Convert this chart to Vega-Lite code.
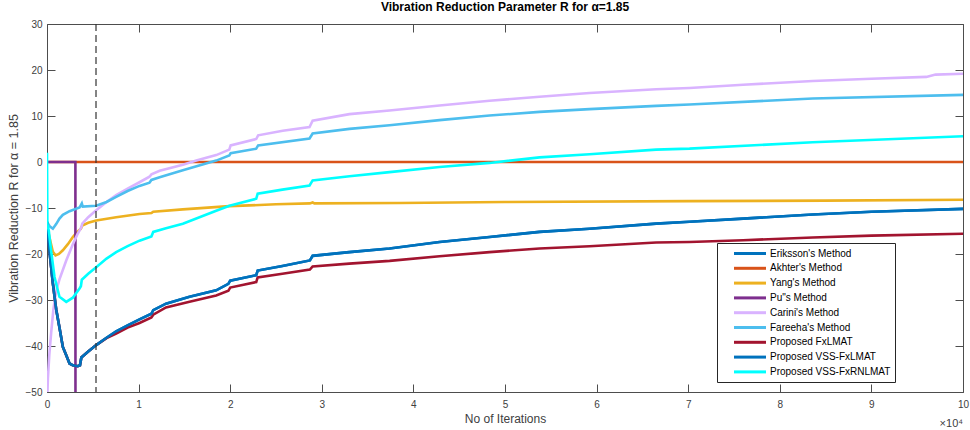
{
  "$schema": "https://vega.github.io/schema/vega-lite/v6.json",
  "width": 916,
  "height": 368,
  "autosize": {"type": "none"},
  "padding": {"left": 47, "top": 24, "right": 7, "bottom": 38},
  "background": "white",
  "config": {
    "font": "Liberation Sans",
    "view": {"stroke": null},
    "axis": {"grid": false, "domainColor": "#4d4d4d", "tickColor": "#4d4d4d", "labelColor": "#404040", "titleColor": "#404040", "labelFontSize": 10, "titleFontSize": 12, "titleFontWeight": "normal", "labelFont": "Liberation Sans", "titleFont": "Liberation Sans"}
  },
  "title": {"text": "Vibration Reduction Parameter R for α=1.85", "fontSize": 12, "fontWeight": "bold", "color": "#000000", "font": "Liberation Sans", "offset": 5},
  "datasets": {
    "curves": [
      {"method": "Eriksson's Method", "x": 0, "r": -13},
      {"method": "Eriksson's Method", "x": 300, "r": -20},
      {"method": "Eriksson's Method", "x": 640, "r": -26.4},
      {"method": "Eriksson's Method", "x": 1000, "r": -32},
      {"method": "Eriksson's Method", "x": 1360, "r": -36},
      {"method": "Eriksson's Method", "x": 1730, "r": -40.2},
      {"method": "Eriksson's Method", "x": 2100, "r": -42},
      {"method": "Eriksson's Method", "x": 2460, "r": -43.8},
      {"method": "Eriksson's Method", "x": 2820, "r": -44.2},
      {"method": "Eriksson's Method", "x": 3360, "r": -44.4},
      {"method": "Eriksson's Method", "x": 3600, "r": -44.2},
      {"method": "Eriksson's Method", "x": 3750, "r": -42.5},
      {"method": "Eriksson's Method", "x": 4500, "r": -41.2},
      {"method": "Eriksson's Method", "x": 5370, "r": -39.8},
      {"method": "Eriksson's Method", "x": 6500, "r": -38.2},
      {"method": "Eriksson's Method", "x": 7550, "r": -36.8},
      {"method": "Eriksson's Method", "x": 8800, "r": -35.5},
      {"method": "Eriksson's Method", "x": 10100, "r": -34.2},
      {"method": "Eriksson's Method", "x": 11400, "r": -33},
      {"method": "Eriksson's Method", "x": 11600, "r": -32.2},
      {"method": "Eriksson's Method", "x": 12990, "r": -30.8},
      {"method": "Eriksson's Method", "x": 15560, "r": -29.3},
      {"method": "Eriksson's Method", "x": 18470, "r": -27.9},
      {"method": "Eriksson's Method", "x": 19800, "r": -26.5},
      {"method": "Eriksson's Method", "x": 20000, "r": -25.8},
      {"method": "Eriksson's Method", "x": 22840, "r": -24.6},
      {"method": "Eriksson's Method", "x": 23000, "r": -23.6},
      {"method": "Eriksson's Method", "x": 25700, "r": -22.6},
      {"method": "Eriksson's Method", "x": 28700, "r": -21.4},
      {"method": "Eriksson's Method", "x": 29000, "r": -20.4},
      {"method": "Eriksson's Method", "x": 33000, "r": -19.6},
      {"method": "Eriksson's Method", "x": 37400, "r": -18.8},
      {"method": "Eriksson's Method", "x": 42850, "r": -17.4},
      {"method": "Eriksson's Method", "x": 48310, "r": -16.3},
      {"method": "Eriksson's Method", "x": 53770, "r": -15.2},
      {"method": "Eriksson's Method", "x": 59230, "r": -14.5},
      {"method": "Eriksson's Method", "x": 66500, "r": -13.4},
      {"method": "Eriksson's Method", "x": 70140, "r": -13.0},
      {"method": "Eriksson's Method", "x": 76000, "r": -12.3},
      {"method": "Eriksson's Method", "x": 83600, "r": -11.4},
      {"method": "Eriksson's Method", "x": 90000, "r": -10.8},
      {"method": "Eriksson's Method", "x": 100000, "r": -10.2},

      {"method": "Akhter's Method", "x": 0, "r": 0},
      {"method": "Akhter's Method", "x": 100000, "r": 0},

      {"method": "Yang's Method", "x": 0, "r": -14},
      {"method": "Yang's Method", "x": 400, "r": -17.5},
      {"method": "Yang's Method", "x": 640, "r": -19.5},
      {"method": "Yang's Method", "x": 930, "r": -20.3},
      {"method": "Yang's Method", "x": 1300, "r": -20},
      {"method": "Yang's Method", "x": 1730, "r": -19.2},
      {"method": "Yang's Method", "x": 2300, "r": -17.8},
      {"method": "Yang's Method", "x": 2820, "r": -16.3},
      {"method": "Yang's Method", "x": 3300, "r": -15.2},
      {"method": "Yang's Method", "x": 3700, "r": -14.5},
      {"method": "Yang's Method", "x": 3850, "r": -13.8},
      {"method": "Yang's Method", "x": 4500, "r": -13.2},
      {"method": "Yang's Method", "x": 5370, "r": -12.7},
      {"method": "Yang's Method", "x": 7550, "r": -12.0},
      {"method": "Yang's Method", "x": 10100, "r": -11.3},
      {"method": "Yang's Method", "x": 11400, "r": -11.1},
      {"method": "Yang's Method", "x": 11600, "r": -10.8},
      {"method": "Yang's Method", "x": 14830, "r": -10.3},
      {"method": "Yang's Method", "x": 19920, "r": -9.6},
      {"method": "Yang's Method", "x": 25000, "r": -9.2},
      {"method": "Yang's Method", "x": 28700, "r": -9.0},
      {"method": "Yang's Method", "x": 29000, "r": -8.8},
      {"method": "Yang's Method", "x": 29200, "r": -9.0},
      {"method": "Yang's Method", "x": 38480, "r": -8.9},
      {"method": "Yang's Method", "x": 50000, "r": -8.7},
      {"method": "Yang's Method", "x": 70000, "r": -8.5},
      {"method": "Yang's Method", "x": 85000, "r": -8.4},
      {"method": "Yang's Method", "x": 100000, "r": -8.2},

      {"method": "Pu\"s Method", "x": 0, "r": 0},
      {"method": "Pu\"s Method", "x": 3100, "r": 0},
      {"method": "Pu\"s Method", "x": 3110, "r": -60},

      {"method": "Carini's Method", "x": 50, "r": -50},
      {"method": "Carini's Method", "x": 100, "r": -47},
      {"method": "Carini's Method", "x": 250, "r": -42},
      {"method": "Carini's Method", "x": 460, "r": -37},
      {"method": "Carini's Method", "x": 700, "r": -32},
      {"method": "Carini's Method", "x": 1000, "r": -28},
      {"method": "Carini's Method", "x": 1360, "r": -25.5},
      {"method": "Carini's Method", "x": 2100, "r": -21.4},
      {"method": "Carini's Method", "x": 2800, "r": -18},
      {"method": "Carini's Method", "x": 3300, "r": -15.8},
      {"method": "Carini's Method", "x": 3750, "r": -14.2},
      {"method": "Carini's Method", "x": 3850, "r": -13.4},
      {"method": "Carini's Method", "x": 4500, "r": -12},
      {"method": "Carini's Method", "x": 5370, "r": -10.5},
      {"method": "Carini's Method", "x": 6500, "r": -8.7},
      {"method": "Carini's Method", "x": 7550, "r": -7.2},
      {"method": "Carini's Method", "x": 8800, "r": -5.8},
      {"method": "Carini's Method", "x": 10100, "r": -4.4},
      {"method": "Carini's Method", "x": 11190, "r": -3.2},
      {"method": "Carini's Method", "x": 11400, "r": -2.7},
      {"method": "Carini's Method", "x": 12300, "r": -1.9},
      {"method": "Carini's Method", "x": 14830, "r": -0.6},
      {"method": "Carini's Method", "x": 16300, "r": 0.3},
      {"method": "Carini's Method", "x": 18470, "r": 1.5},
      {"method": "Carini's Method", "x": 19900, "r": 2.7},
      {"method": "Carini's Method", "x": 20050, "r": 3.6},
      {"method": "Carini's Method", "x": 22840, "r": 5.0},
      {"method": "Carini's Method", "x": 23050, "r": 5.8},
      {"method": "Carini's Method", "x": 25740, "r": 6.8},
      {"method": "Carini's Method", "x": 28660, "r": 7.6},
      {"method": "Carini's Method", "x": 29000, "r": 9.0},
      {"method": "Carini's Method", "x": 33020, "r": 10.4},
      {"method": "Carini's Method", "x": 37390, "r": 11.2},
      {"method": "Carini's Method", "x": 42850, "r": 12.3},
      {"method": "Carini's Method", "x": 48310, "r": 13.3},
      {"method": "Carini's Method", "x": 53770, "r": 14.2},
      {"method": "Carini's Method", "x": 59230, "r": 15.0},
      {"method": "Carini's Method", "x": 66500, "r": 15.8},
      {"method": "Carini's Method", "x": 70140, "r": 16.1},
      {"method": "Carini's Method", "x": 76000, "r": 16.8},
      {"method": "Carini's Method", "x": 83600, "r": 17.6},
      {"method": "Carini's Method", "x": 90000, "r": 18.1},
      {"method": "Carini's Method", "x": 96000, "r": 18.5},
      {"method": "Carini's Method", "x": 97000, "r": 19.0},
      {"method": "Carini's Method", "x": 100000, "r": 19.2},

      {"method": "Fareeha's Method", "x": 0, "r": -13},
      {"method": "Fareeha's Method", "x": 300, "r": -14},
      {"method": "Fareeha's Method", "x": 640, "r": -14.5},
      {"method": "Fareeha's Method", "x": 1000, "r": -13.5},
      {"method": "Fareeha's Method", "x": 1360, "r": -12.3},
      {"method": "Fareeha's Method", "x": 1730, "r": -11.5},
      {"method": "Fareeha's Method", "x": 2460, "r": -10.7},
      {"method": "Fareeha's Method", "x": 3550, "r": -9.9},
      {"method": "Fareeha's Method", "x": 3800, "r": -9.0},
      {"method": "Fareeha's Method", "x": 3900, "r": -9.7},
      {"method": "Fareeha's Method", "x": 5370, "r": -9.5},
      {"method": "Fareeha's Method", "x": 6500, "r": -8.7},
      {"method": "Fareeha's Method", "x": 7550, "r": -7.6},
      {"method": "Fareeha's Method", "x": 8800, "r": -6.3},
      {"method": "Fareeha's Method", "x": 10100, "r": -5.2},
      {"method": "Fareeha's Method", "x": 11190, "r": -4.5},
      {"method": "Fareeha's Method", "x": 11400, "r": -3.9},
      {"method": "Fareeha's Method", "x": 12300, "r": -3.3},
      {"method": "Fareeha's Method", "x": 14830, "r": -1.8},
      {"method": "Fareeha's Method", "x": 18470, "r": 0.3},
      {"method": "Fareeha's Method", "x": 19900, "r": 1.4},
      {"method": "Fareeha's Method", "x": 20050, "r": 1.9},
      {"method": "Fareeha's Method", "x": 22840, "r": 2.9},
      {"method": "Fareeha's Method", "x": 23050, "r": 3.6},
      {"method": "Fareeha's Method", "x": 28660, "r": 5.1},
      {"method": "Fareeha's Method", "x": 29000, "r": 6.2},
      {"method": "Fareeha's Method", "x": 33020, "r": 7.2},
      {"method": "Fareeha's Method", "x": 37390, "r": 8.0},
      {"method": "Fareeha's Method", "x": 42850, "r": 9.1},
      {"method": "Fareeha's Method", "x": 48310, "r": 10.1},
      {"method": "Fareeha's Method", "x": 53770, "r": 10.9},
      {"method": "Fareeha's Method", "x": 59230, "r": 11.5},
      {"method": "Fareeha's Method", "x": 66500, "r": 12.2},
      {"method": "Fareeha's Method", "x": 70140, "r": 12.5},
      {"method": "Fareeha's Method", "x": 83600, "r": 13.8},
      {"method": "Fareeha's Method", "x": 100000, "r": 14.6},

      {"method": "Proposed FxLMAT", "x": 0, "r": -13},
      {"method": "Proposed FxLMAT", "x": 300, "r": -20},
      {"method": "Proposed FxLMAT", "x": 640, "r": -26.4},
      {"method": "Proposed FxLMAT", "x": 1000, "r": -32},
      {"method": "Proposed FxLMAT", "x": 1360, "r": -36},
      {"method": "Proposed FxLMAT", "x": 1730, "r": -40.2},
      {"method": "Proposed FxLMAT", "x": 2100, "r": -42},
      {"method": "Proposed FxLMAT", "x": 2460, "r": -43.8},
      {"method": "Proposed FxLMAT", "x": 2820, "r": -44.2},
      {"method": "Proposed FxLMAT", "x": 3360, "r": -44.4},
      {"method": "Proposed FxLMAT", "x": 3600, "r": -44.2},
      {"method": "Proposed FxLMAT", "x": 3750, "r": -42.5},
      {"method": "Proposed FxLMAT", "x": 4500, "r": -41.2},
      {"method": "Proposed FxLMAT", "x": 5370, "r": -39.8},
      {"method": "Proposed FxLMAT", "x": 6500, "r": -38.3},
      {"method": "Proposed FxLMAT", "x": 7550, "r": -37.3},
      {"method": "Proposed FxLMAT", "x": 8800, "r": -36},
      {"method": "Proposed FxLMAT", "x": 10100, "r": -35},
      {"method": "Proposed FxLMAT", "x": 11400, "r": -33.8},
      {"method": "Proposed FxLMAT", "x": 11600, "r": -33.2},
      {"method": "Proposed FxLMAT", "x": 12990, "r": -31.6},
      {"method": "Proposed FxLMAT", "x": 15560, "r": -30.4},
      {"method": "Proposed FxLMAT", "x": 18470, "r": -29.0},
      {"method": "Proposed FxLMAT", "x": 19800, "r": -28},
      {"method": "Proposed FxLMAT", "x": 20000, "r": -27.3},
      {"method": "Proposed FxLMAT", "x": 22840, "r": -26.1},
      {"method": "Proposed FxLMAT", "x": 23000, "r": -25.1},
      {"method": "Proposed FxLMAT", "x": 25700, "r": -24.3},
      {"method": "Proposed FxLMAT", "x": 28700, "r": -23.4},
      {"method": "Proposed FxLMAT", "x": 29000, "r": -22.7},
      {"method": "Proposed FxLMAT", "x": 33000, "r": -22.1},
      {"method": "Proposed FxLMAT", "x": 37400, "r": -21.5},
      {"method": "Proposed FxLMAT", "x": 42850, "r": -20.5},
      {"method": "Proposed FxLMAT", "x": 48310, "r": -19.6},
      {"method": "Proposed FxLMAT", "x": 53770, "r": -18.8},
      {"method": "Proposed FxLMAT", "x": 59230, "r": -18.3},
      {"method": "Proposed FxLMAT", "x": 66500, "r": -17.5},
      {"method": "Proposed FxLMAT", "x": 70140, "r": -17.4},
      {"method": "Proposed FxLMAT", "x": 76000, "r": -17.0},
      {"method": "Proposed FxLMAT", "x": 83600, "r": -16.4},
      {"method": "Proposed FxLMAT", "x": 90000, "r": -16.0},
      {"method": "Proposed FxLMAT", "x": 100000, "r": -15.6},

      {"method": "Proposed VSS-FxLMAT", "x": 0, "r": -13},
      {"method": "Proposed VSS-FxLMAT", "x": 300, "r": -20},
      {"method": "Proposed VSS-FxLMAT", "x": 640, "r": -26.4},
      {"method": "Proposed VSS-FxLMAT", "x": 1000, "r": -32},
      {"method": "Proposed VSS-FxLMAT", "x": 1360, "r": -36},
      {"method": "Proposed VSS-FxLMAT", "x": 1730, "r": -40.2},
      {"method": "Proposed VSS-FxLMAT", "x": 2100, "r": -42},
      {"method": "Proposed VSS-FxLMAT", "x": 2460, "r": -43.8},
      {"method": "Proposed VSS-FxLMAT", "x": 2820, "r": -44.2},
      {"method": "Proposed VSS-FxLMAT", "x": 3360, "r": -44.4},
      {"method": "Proposed VSS-FxLMAT", "x": 3600, "r": -44.2},
      {"method": "Proposed VSS-FxLMAT", "x": 3750, "r": -42.5},
      {"method": "Proposed VSS-FxLMAT", "x": 4500, "r": -41.2},
      {"method": "Proposed VSS-FxLMAT", "x": 5370, "r": -39.8},
      {"method": "Proposed VSS-FxLMAT", "x": 6500, "r": -38.2},
      {"method": "Proposed VSS-FxLMAT", "x": 7550, "r": -36.8},
      {"method": "Proposed VSS-FxLMAT", "x": 8800, "r": -35.5},
      {"method": "Proposed VSS-FxLMAT", "x": 10100, "r": -34.2},
      {"method": "Proposed VSS-FxLMAT", "x": 11400, "r": -33},
      {"method": "Proposed VSS-FxLMAT", "x": 11600, "r": -32.2},
      {"method": "Proposed VSS-FxLMAT", "x": 12990, "r": -30.8},
      {"method": "Proposed VSS-FxLMAT", "x": 15560, "r": -29.3},
      {"method": "Proposed VSS-FxLMAT", "x": 18470, "r": -27.9},
      {"method": "Proposed VSS-FxLMAT", "x": 19800, "r": -26.5},
      {"method": "Proposed VSS-FxLMAT", "x": 20000, "r": -25.8},
      {"method": "Proposed VSS-FxLMAT", "x": 22840, "r": -24.6},
      {"method": "Proposed VSS-FxLMAT", "x": 23000, "r": -23.6},
      {"method": "Proposed VSS-FxLMAT", "x": 25700, "r": -22.6},
      {"method": "Proposed VSS-FxLMAT", "x": 28700, "r": -21.4},
      {"method": "Proposed VSS-FxLMAT", "x": 29000, "r": -20.4},
      {"method": "Proposed VSS-FxLMAT", "x": 33000, "r": -19.6},
      {"method": "Proposed VSS-FxLMAT", "x": 37400, "r": -18.8},
      {"method": "Proposed VSS-FxLMAT", "x": 42850, "r": -17.4},
      {"method": "Proposed VSS-FxLMAT", "x": 48310, "r": -16.3},
      {"method": "Proposed VSS-FxLMAT", "x": 53770, "r": -15.2},
      {"method": "Proposed VSS-FxLMAT", "x": 59230, "r": -14.5},
      {"method": "Proposed VSS-FxLMAT", "x": 66500, "r": -13.4},
      {"method": "Proposed VSS-FxLMAT", "x": 70140, "r": -13.0},
      {"method": "Proposed VSS-FxLMAT", "x": 76000, "r": -12.3},
      {"method": "Proposed VSS-FxLMAT", "x": 83600, "r": -11.4},
      {"method": "Proposed VSS-FxLMAT", "x": 90000, "r": -10.8},
      {"method": "Proposed VSS-FxLMAT", "x": 100000, "r": -10.2},

      {"method": "Proposed VSS-FxRNLMAT", "x": 0, "r": 2},
      {"method": "Proposed VSS-FxRNLMAT", "x": 40, "r": -13.4},
      {"method": "Proposed VSS-FxRNLMAT", "x": 200, "r": -15},
      {"method": "Proposed VSS-FxRNLMAT", "x": 460, "r": -19.5},
      {"method": "Proposed VSS-FxRNLMAT", "x": 820, "r": -25},
      {"method": "Proposed VSS-FxRNLMAT", "x": 1360, "r": -29.3},
      {"method": "Proposed VSS-FxRNLMAT", "x": 2100, "r": -30.4},
      {"method": "Proposed VSS-FxRNLMAT", "x": 2820, "r": -29.5},
      {"method": "Proposed VSS-FxRNLMAT", "x": 3550, "r": -27.5},
      {"method": "Proposed VSS-FxRNLMAT", "x": 3700, "r": -27},
      {"method": "Proposed VSS-FxRNLMAT", "x": 3800, "r": -25.6},
      {"method": "Proposed VSS-FxRNLMAT", "x": 4500, "r": -24.3},
      {"method": "Proposed VSS-FxRNLMAT", "x": 5370, "r": -22.9},
      {"method": "Proposed VSS-FxRNLMAT", "x": 6500, "r": -21},
      {"method": "Proposed VSS-FxRNLMAT", "x": 7550, "r": -19.6},
      {"method": "Proposed VSS-FxRNLMAT", "x": 8800, "r": -18.3},
      {"method": "Proposed VSS-FxRNLMAT", "x": 10100, "r": -17.1},
      {"method": "Proposed VSS-FxRNLMAT", "x": 11400, "r": -16.2},
      {"method": "Proposed VSS-FxRNLMAT", "x": 11600, "r": -15.2},
      {"method": "Proposed VSS-FxRNLMAT", "x": 12990, "r": -14.4},
      {"method": "Proposed VSS-FxRNLMAT", "x": 14830, "r": -13.4},
      {"method": "Proposed VSS-FxRNLMAT", "x": 18470, "r": -10.6},
      {"method": "Proposed VSS-FxRNLMAT", "x": 19920, "r": -9.5},
      {"method": "Proposed VSS-FxRNLMAT", "x": 22840, "r": -8.0},
      {"method": "Proposed VSS-FxRNLMAT", "x": 23000, "r": -6.9},
      {"method": "Proposed VSS-FxRNLMAT", "x": 25700, "r": -6.0},
      {"method": "Proposed VSS-FxRNLMAT", "x": 28660, "r": -5.1},
      {"method": "Proposed VSS-FxRNLMAT", "x": 29000, "r": -4.0},
      {"method": "Proposed VSS-FxRNLMAT", "x": 33020, "r": -3.1},
      {"method": "Proposed VSS-FxRNLMAT", "x": 37390, "r": -2.2},
      {"method": "Proposed VSS-FxRNLMAT", "x": 42850, "r": -1.1},
      {"method": "Proposed VSS-FxRNLMAT", "x": 48310, "r": -0.2},
      {"method": "Proposed VSS-FxRNLMAT", "x": 53770, "r": 1.0},
      {"method": "Proposed VSS-FxRNLMAT", "x": 59230, "r": 1.7},
      {"method": "Proposed VSS-FxRNLMAT", "x": 66500, "r": 2.7},
      {"method": "Proposed VSS-FxRNLMAT", "x": 70140, "r": 2.9},
      {"method": "Proposed VSS-FxRNLMAT", "x": 83600, "r": 4.3},
      {"method": "Proposed VSS-FxRNLMAT", "x": 100000, "r": 5.6}
    ],
    "marker": [{"x": 5350}],
    "scaleNote": [{"x": 100000, "r": -50, "label": "×10⁴"}]
  },
  "layer": [
    {
      "data": {"name": "curves"},
      "mark": {"type": "line", "strokeWidth": 2.6, "clip": true},
      "encoding": {
        "x": {"field": "x", "type": "quantitative", "scale": {"domain": [0, 100000], "nice": false, "zero": false},
          "axis": {"orient": "bottom", "title": "No of Iterations", "values": [0, 10000, 20000, 30000, 40000, 50000, 60000, 70000, 80000, 90000, 100000], "labelExpr": "datum.value / 10000", "tickSize": -8, "labelPadding": 15, "titlePadding": 4, "labelFlush": false}},
        "y": {"field": "r", "type": "quantitative", "scale": {"domain": [-50, 30], "nice": false, "zero": false},
          "axis": {"orient": "left", "title": "Vibration Reduction R for  α = 1.85", "titleFontSize": 12.5, "values": [-50, -40, -30, -20, -10, 0, 10, 20, 30], "tickSize": -8, "labelPadding": 13, "titlePadding": 5}},
        "color": {"field": "method", "type": "nominal",
          "scale": {"domain": ["Eriksson's Method", "Akhter's Method", "Yang's Method", "Pu\"s Method", "Carini's Method", "Fareeha's Method", "Proposed FxLMAT", "Proposed VSS-FxLMAT", "Proposed VSS-FxRNLMAT"],
            "range": ["#0072BD", "#D95319", "#EDB120", "#7E2F8E", "#D9B3FF", "#4DBEEE", "#A2142F", "#0072BD", "#00FFFF"]},
          "legend": {"title": null, "orient": "none", "legendX": 670, "legendY": 219, "padding": 4, "strokeColor": "#262626", "fillColor": "white", "symbolType": "M1.3,0H7.7", "symbolSize": 100, "symbolStrokeWidth": 3, "labelOffset": 36, "labelFontSize": 10, "labelColor": "#000000", "labelFont": "Liberation Sans", "rowPadding": 1.8}},
        "order": {"field": "x", "type": "quantitative"}
      }
    },
    {
      "data": {"name": "marker"},
      "mark": {"type": "rule", "strokeDash": [7, 4], "stroke": "#333333", "strokeWidth": 1.2},
      "encoding": {
        "x": {"field": "x", "type": "quantitative", "axis": {"orient": "top", "title": null, "labels": false, "tickSize": -8, "values": [0, 10000, 20000, 30000, 40000, 50000, 60000, 70000, 80000, 90000, 100000]}}
      }
    },
    {
      "data": {"name": "scaleNote"},
      "mark": {"type": "text", "align": "right", "baseline": "alphabetic", "dy": 35, "dx": 0, "fontSize": 11, "color": "#404040", "font": "Liberation Sans"},
      "encoding": {
        "x": {"field": "x", "type": "quantitative", "axis": null},
        "y": {"field": "r", "type": "quantitative", "axis": {"orient": "right", "title": null, "labels": false, "tickSize": -8, "values": [-50, -40, -30, -20, -10, 0, 10, 20, 30]}},
        "text": {"field": "label"}
      }
    }
  ]
}
